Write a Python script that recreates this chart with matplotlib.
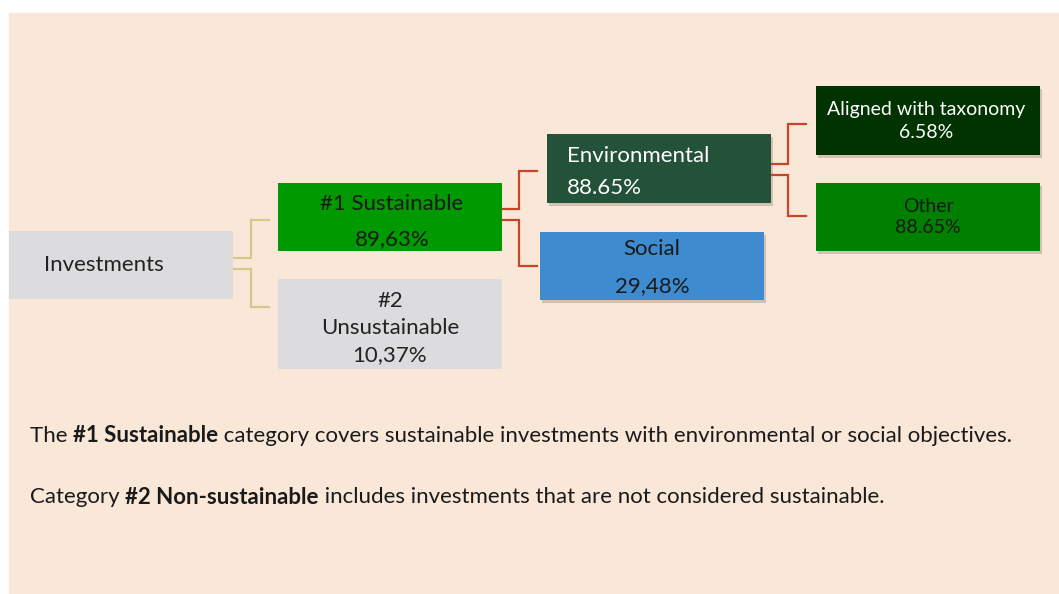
import matplotlib.pyplot as plt
from matplotlib.patches import Rectangle
from matplotlib.transforms import offset_copy

# data
node_labels = ["Investments", "#1 Sustainable", "#2\nUnsustainable", "Environmental",
               "Social", "Aligned with taxonomy", "Other"]
node_values = [None, "89,63%", "10,37%", "88.65%", "29,48%", "6.58%", "88.65%"]
links = [(0, 1), (0, 2), (1, 3), (1, 4), (3, 5), (3, 6)]

note_parts = [
    [("The ", "normal"), ("#1 Sustainable", "bold"),
     (" category covers sustainable investments with environmental or social objectives.", "normal")],
    [("Category ", "normal"), ("#2 Non-sustainable", "bold"),
     (" includes investments that are not considered sustainable.", "normal")],
]

# layout in pixels (x0, y0, x1, y1), y downwards
boxes = [(9, 231, 233, 299), (278, 183, 502, 251), (278, 279, 502, 369),
         (547, 134, 771, 203), (540, 232, 764, 300), (816, 86, 1040, 155),
         (816, 183, 1040, 251)]
box_colors = ["#dcdcde", "#009900", "#dcdcde", "#235239", "#3e8bd0", "#003300", "#008000"]
text_colors = ["#222222", "#1a1a1a", "#222222", "#ffffff", "#1a1a1a", "#ffffff", "#1a1a1a"]
shadow = [False, False, False, True, True, True, True]
link_colors = ["#d4c98a", "#d4c98a", "#c8442a", "#c8442a", "#c8442a", "#c8442a"]

FONT = "Lato"

fig = plt.figure(figsize=(10.59, 5.94), dpi=100)
ax = fig.add_axes([0, 0, 1, 1])
ax.set_xlim(0, 1059)
ax.set_ylim(594, 0)
ax.axis("off")

# beige panel
ax.add_patch(Rectangle((9, 13), 1059 - 9, 594 - 13, color="#f9e7d7", zorder=0))

# boxes
for i, (x0, y0, x1, y1) in enumerate(boxes):
    if shadow[i]:
        ax.add_patch(Rectangle((x0 + 2, y0 + 3), x1 - x0, y1 - y0, color="#b9a796",
                               alpha=0.6, zorder=1, lw=0))
    ax.add_patch(Rectangle((x0, y0), x1 - x0, y1 - y0, color=box_colors[i], zorder=2, lw=0))

fs = 16
# investments
ax.text(44, 265, node_labels[0], ha="left", va="center", fontsize=fs, family=FONT,
        color=text_colors[0], zorder=3)
# #1 sustainable
ax.text(392, 204, node_labels[1], ha="center", va="center", fontsize=fs, family=FONT,
        color=text_colors[1], zorder=3)
ax.text(392, 239, node_values[1], ha="center", va="center", fontsize=fs, family=FONT,
        color=text_colors[1], zorder=3)
# #2
ax.text(390, 328, node_labels[2] + "\n" + node_values[2], ha="center", va="center",
        fontsize=fs, family=FONT, color=text_colors[2], linespacing=1.45, zorder=3)
# environmental (left aligned)
ax.text(567, 156, node_labels[3], ha="left", va="center", fontsize=fs, family=FONT,
        color=text_colors[3], zorder=3)
ax.text(567, 188, node_values[3], ha="left", va="center", fontsize=fs, family=FONT,
        color=text_colors[3], zorder=3)
# social
ax.text(652, 249, node_labels[4], ha="center", va="center", fontsize=fs, family=FONT,
        color=text_colors[4], zorder=3)
ax.text(652, 286, node_values[4], ha="center", va="center", fontsize=fs, family=FONT,
        color=text_colors[4], zorder=3)
# aligned
ax.text(926, 121, node_labels[5] + "\n" + node_values[5], ha="center", va="center",
        fontsize=14, family=FONT, color=text_colors[5], linespacing=1.45, zorder=3)
# other
ax.text(928, 217, node_labels[6] + "\n" + node_values[6], ha="center", va="center",
        fontsize=14, family=FONT, color=text_colors[6], linespacing=1.25, zorder=3)

# elbow connectors
elbows = [
    # (start x, start y, mid x, end y, end x)
    (233, 258, 251, 220, 269),
    (233, 269, 251, 307, 269),
    (502, 209, 519, 171, 537),
    (502, 220, 519, 266, 537),
    (771, 164, 788, 124, 806),
    (771, 175, 788, 216, 806),
]
for (sx, sy, mx, ey, ex), c in zip(elbows, link_colors):
    ax.plot([sx, mx, mx, ex], [sy, sy, ey, ey], color=c, lw=1.6, zorder=1.5,
            solid_joinstyle="miter")

# explanatory notes with bold fragments
renderer = fig.canvas.get_renderer()
note_y = [436, 497]
for parts, y in zip(note_parts, note_y):
    x_off = 0
    for txt, w in parts:
        t = ax.text(30, y, txt, ha="left", va="center", fontsize=16, family=FONT,
                    fontweight=w, color="#1a1a1a",
                    transform=offset_copy(ax.transData, fig=fig, x=x_off, y=0, units="dots"))
        bb = t.get_window_extent(renderer=renderer)
        x_off += bb.width

fig.savefig("out.png", dpi=100, facecolor="white")
